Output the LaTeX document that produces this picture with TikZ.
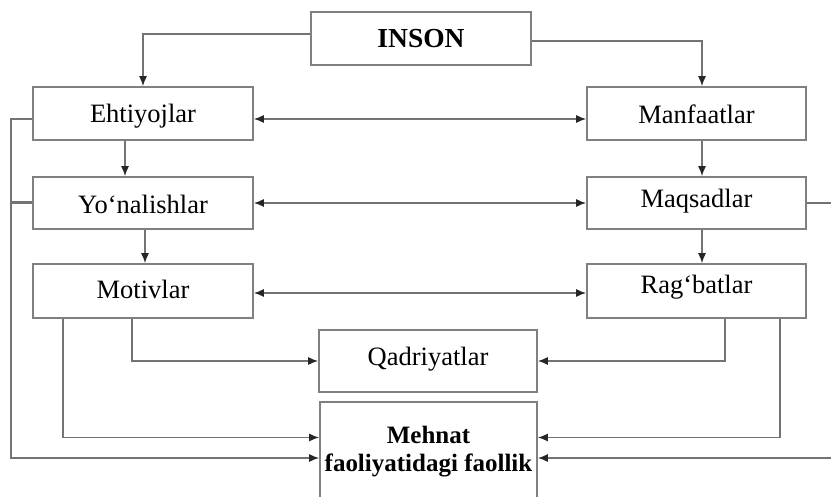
\documentclass[tikz,border=0pt]{standalone}
\usepackage{fontspec}
\setmainfont{Liberation Serif}
\usetikzlibrary{arrows.meta}

\begin{document}
\begin{tikzpicture}[x=1pt,y=-1pt,
  box/.style={draw=black!50,line width=1.6pt,fill=white,inner sep=0pt,
    minimum width=220pt,minimum height=53pt,text depth=0pt,text height=18pt,
    font=\fontsize{26.5}{30}\selectfont},
  conn/.style={draw=black!55,line width=1.5pt},
  tip/.style={-{Latex[length=10pt,width=8pt,color=black!85]}},
  arr/.style={conn,tip},
  biarr/.style={conn,{Latex[length=10pt,width=8pt,color=black!85]}-{Latex[length=10pt,width=8pt,color=black!85]}}]

\useasboundingbox (0,0) rectangle (831,497);
\clip (0,0) rectangle (831,497);
\fill[white] (0,0) rectangle (831,497);

% boxes
\node[box,font=\bfseries\fontsize{27.5}{30}\selectfont] (inson) at (421,38.5) {INSON};
\node[box,text height=19pt] (eht) at (143,113.5) {Ehtiyojlar};
\node[box,minimum height=52pt,text height=22pt] (yon) at (143,203) {Yo‘nalishlar};
\node[box,minimum height=54pt,text height=16pt] (mot) at (143,291) {Motivlar};
\node[box,minimum width=219pt,text height=20pt] (man) at (696.5,113.5) {Manfaatlar};
\node[box,minimum width=219pt,minimum height=52pt,text height=9.5pt] (maq) at (696.5,203) {Maqsadlar};
\node[box,minimum width=219pt,minimum height=54pt,text height=4.6pt] (rag) at (696.5,291) {Rag‘batlar};
\node[box,minimum width=218pt,minimum height=62pt,text height=9.5pt] (qad) at (428,361) {Qadriyatlar};
\node[box,minimum width=217pt,minimum height=99pt,align=center,text height=,text depth=,
  font=\bfseries\fontsize{25}{28}\selectfont] (meh) at (428.5,451.5) {Mehnat\\faoliyatidagi faollik};

% free ends at the sides
\coordinate (lb) at (11,458);
\coordinate (ls) at (11,204);
\coordinate (re) at (831,202);
\coordinate (rb) at (831,458);

% from the top box
\draw[arr] ([yshift=4.5pt]inson.west) -| (eht.north);
\draw[arr] ([yshift=-2.5pt]inson.east) -| ([xshift=5.5pt]man.north);

% down the columns
\draw[arr] ([xshift=-18pt]eht.south) -- ([xshift=-18pt]yon.north);
\draw[arr] ([xshift=2pt]yon.south) -- ([xshift=2pt]mot.north);
\draw[arr] ([xshift=5.5pt]man.south) -- ([xshift=5.5pt]maq.north);
\draw[arr] ([xshift=5.5pt]maq.south) -- ([xshift=5.5pt]rag.north);

% across the rows
\draw[biarr] ([yshift=-5.5pt]eht.east) -- ([yshift=-5.5pt]man.west);
\draw[biarr] (yon.east) -- (maq.west);
\draw[biarr] ([yshift=-2pt]mot.east) -- ([yshift=-2pt]rag.west);

% into the values box
\draw[arr] ([xshift=-11pt]mot.south) |- (qad.west);
\draw[arr] ([xshift=28.5pt]rag.south) |- (qad.east);

% into the activity box
\draw[arr] ([xshift=-80pt]mot.south) |- (meh.west |- 0,437.5);
\draw[arr] ([xshift=83.5pt]rag.south) |- (meh.east |- 0,437.5);
\draw[arr] ([yshift=-5.5pt]eht.west) -| (lb) -- (meh.west |- lb);
\draw[conn,line width=3pt] (yon.west) -- (yon.west -| ls);
\draw[conn] (maq.east) -- (maq.east -| re);
\draw[arr] (rb) -- (meh.east |- rb);
\end{tikzpicture}
\end{document}
